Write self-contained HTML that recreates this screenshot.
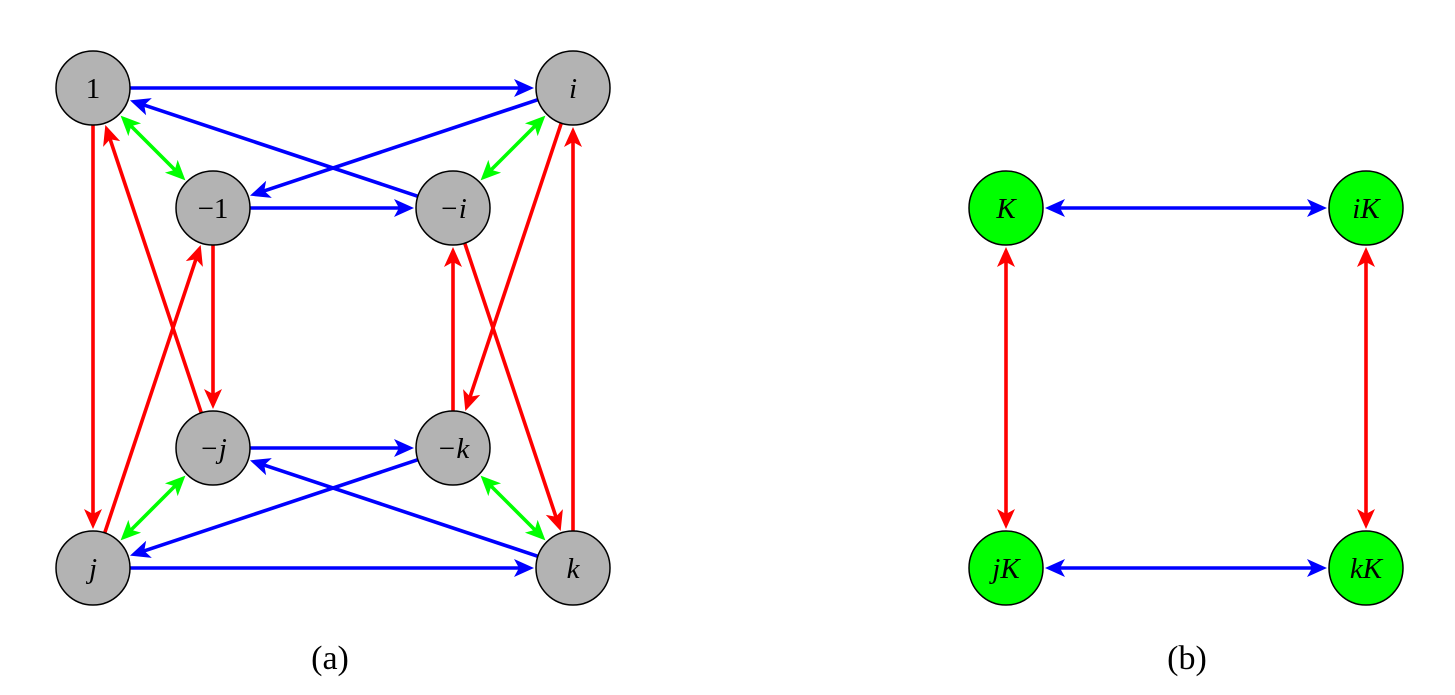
<!DOCTYPE html>
<html><head><meta charset="utf-8">
<style>
html,body{margin:0;padding:0;background:#fff;}
svg{display:block;}
text{font-family:"Liberation Serif",serif;font-size:29px;fill:#000;}
</style></head>
<body>
<svg id="s" width="1455" height="695" viewBox="0 0 1455 695" xmlns="http://www.w3.org/2000/svg">
<g id="edges"></g>
<g id="nodes"></g>
<text x="330" y="669" text-anchor="middle" style="font-size:34px">(a)</text>
<text x="1187" y="669" text-anchor="middle" style="font-size:34px">(b)</text>
</svg>
<script>
var N={
 one:[93,88,'1',0],i:[573,88,'i',1],m1:[213,208,'−1',0],mi:[453,208,'−i',1],
 mj:[213,448,'−j',1],mk:[453,448,'−k',1],j:[93,568,'j',1],k:[573,568,'k',1],
 K:[1006,208,'K',1],iK:[1366,208,'iK',1],jK:[1006,568,'jK',1],kK:[1366,568,'kK',1]
};
var R=37;
var col={b:'#0000ff',r:'#ff0000',g:'#00ff00'};
var E=[
 ['one','i','b',0],['mi','one','b',0],['i','m1','b',0],['m1','mi','b',0],
 ['mj','mk','b',0],['mk','j','b',0],['k','mj','b',0],['j','k','b',0],
 ['one','j','r',0],['mj','one','r',0],['j','m1','r',0],['m1','mj','r',0],
 ['mk','mi','r',0],['i','mk','r',0],['mi','k','r',0],['k','i','r',0],
 ['one','m1','g',1],['i','mi','g',1],['mj','j','g',1],['mk','k','g',1],
 ['K','iK','b',1],['jK','kK','b',1],['K','jK','r',1],['iK','kK','r',1]
];
var ns='http://www.w3.org/2000/svg';
var ge=document.getElementById('edges'),gn=document.getElementById('nodes');
E.forEach(function(e){
 var a=N[e[0]],b=N[e[1]];
 var dx=b[0]-a[0],dy=b[1]-a[1],L=Math.hypot(dx,dy),ux=dx/L,uy=dy/L;
 var g=2;
 var x1=a[0]+ux*(R+(e[3]?g:0)),y1=a[1]+uy*(R+(e[3]?g:0));
 var x2=b[0]-ux*(R+g),y2=b[1]-uy*(R+g);
 var l=document.createElementNS(ns,'line');
 l.setAttribute('x1',x1+(e[3]?ux*5:0));l.setAttribute('y1',y1+(e[3]?uy*5:0));
 l.setAttribute('x2',x2-ux*5);l.setAttribute('y2',y2-uy*5);
 l.setAttribute('stroke',col[e[2]]);l.setAttribute('stroke-width','3.6');
 ge.appendChild(l);
 function head(tx,ty,vx,vy){
  var p=document.createElementNS(ns,'path');
  var px=-vy,py=vx;
  var bx=tx-vx*20,by=ty-vy*20;
  var d='M'+tx+','+ty+' L'+(bx+px*9)+','+(by+py*9)+' L'+(tx-vx*15)+','+(ty-vy*15)+' L'+(bx-px*9)+','+(by-py*9)+' Z';
  p.setAttribute('d',d);p.setAttribute('fill',col[e[2]]);
  ge.appendChild(p);
 }
 head(x2,y2,ux,uy);
 if(e[3]) head(x1,y1,-ux,-uy);
});
for(var k in N){
 var n=N[k];
 var c=document.createElementNS(ns,'circle');
 c.setAttribute('cx',n[0]);c.setAttribute('cy',n[1]);c.setAttribute('r',R);
 c.setAttribute('fill',k.indexOf('K')>=0?'#00ff00':'#b3b3b3');
 c.setAttribute('stroke','#000');c.setAttribute('stroke-width','1.5');
 gn.appendChild(c);
 var t=document.createElementNS(ns,'text');
 t.setAttribute('x',n[0]);t.setAttribute('y',n[1]+10);
 t.setAttribute('text-anchor','middle');
 if(n[3]) t.setAttribute('font-style','italic');
 t.textContent=n[2];
 gn.appendChild(t);
}
</script>
</body></html>
